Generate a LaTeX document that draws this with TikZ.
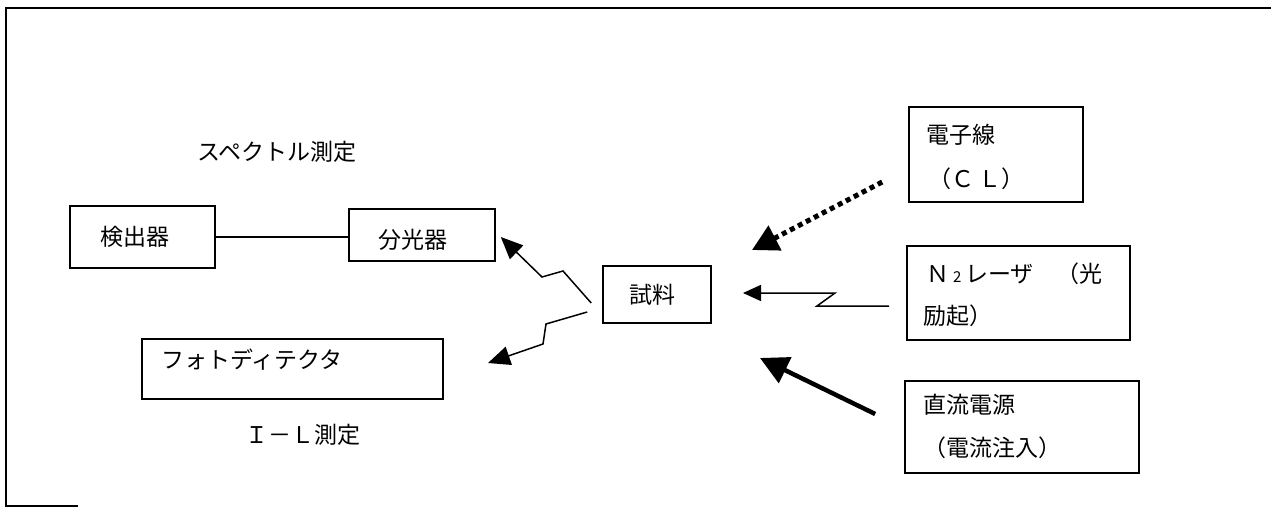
\documentclass[tikz,border=0pt]{standalone}
\usepackage{fontspec}
\newfontfamily\jp{Noto Sans CJK JP}
\usetikzlibrary{arrows.meta,calc}
\tikzset{
  box/.style={draw,line width=1.6pt,rectangle,inner sep=0pt},
  txt/.style={font=\jp\fontsize{23}{26}\selectfont,inner sep=0pt},
  thin/.style={line width=1.5pt},
  zig/.style={line width=1.5pt,-{Triangle[length=22pt,width=19pt]}},
}
\begin{document}
\begin{tikzpicture}[x=1pt,y=-1pt]
\useasboundingbox (0,0) rectangle (1271,508);
\draw[line width=1.5pt] (78,506) -- (6,506) -- (6,8) -- (1271,8);
% boxes
\node[box,minimum width=145pt,minimum height=62pt] (det) at (142.5,237) {};
\node[box,minimum width=146pt,minimum height=52pt] (spec) at (422,235) {};
\node[box,minimum width=301pt,minimum height=60pt] (pd) at (292.5,369) {};
\node[box,minimum width=108pt,minimum height=57pt] (smp) at (657,294.5) {};
\node[box,minimum width=174pt,minimum height=95pt] (eb) at (996,154.5) {};
\node[box,minimum width=223pt,minimum height=94pt] (n2) at (1018.5,293) {};
\node[box,minimum width=234pt,minimum height=92pt] (dc) at (1022,427) {};
% texts
\node[txt] (t1) at (277,152) {スペクトル測定};
\node[txt] (t2) at (135,237) {検出器};
\node[txt] (t3) at (413,240) {分光器};
\node[txt] (t4) at (652,295) {試料};
\node[txt,anchor=west] (t5) at (161,360) {フォトディテクタ};
\node[txt] (t6) at (303,435) {Ｉ－Ｌ測定};
\node[txt,anchor=west] (t7) at (926,135) {電子線};
\node[txt,anchor=west] (t8) at (928,179) {（Ｃ\,Ｌ）};
\node[txt,anchor=west] (t9) at (926,274) {Ｎ\,{\fontsize{15}{16}\selectfont 2}\,レーザ　（光};
\node[txt,anchor=west] (t10) at (923,316) {励起）};
\node[txt,anchor=west] (t11) at (923,405) {直流電源};
\node[txt,anchor=west] (t12) at (923,448) {（電流注入）};
% connectors
\draw[thin] (det.east) -- (spec.west|-det.east);
\coordinate (a1) at ($(spec.east)+(5,2)$);
\draw[zig] ($(smp.west)+(-11,8.5)$) -- (563,271) -- (542,277) -- (a1);
\coordinate (a2) at (488,363);
\draw[zig] ($(smp.west)+(-15,17.5)$) -- (546,324) -- (543,344) -- (a2);
\coordinate (a3) at (752,250);
\draw[line width=5pt,dash pattern=on 5pt off 4pt,-{Triangle[length=26pt,width=27pt]}] ($(eb.west)+(-26,27.5)$) -- (a3);
\coordinate (a4) at (743,293);
\draw[line width=1.5pt,-{Triangle[length=18pt,width=16pt]}] ($(n2.west)+(-17,13)$) -- (817,306) -- (835,293) -- (a4);
\coordinate (a5) at (760,358);
\draw[line width=4.5pt,-{Triangle[length=28pt,width=28pt]}] ($(dc.west)+(-29,-13)$) -- (a5);
\end{tikzpicture}
\end{document}
